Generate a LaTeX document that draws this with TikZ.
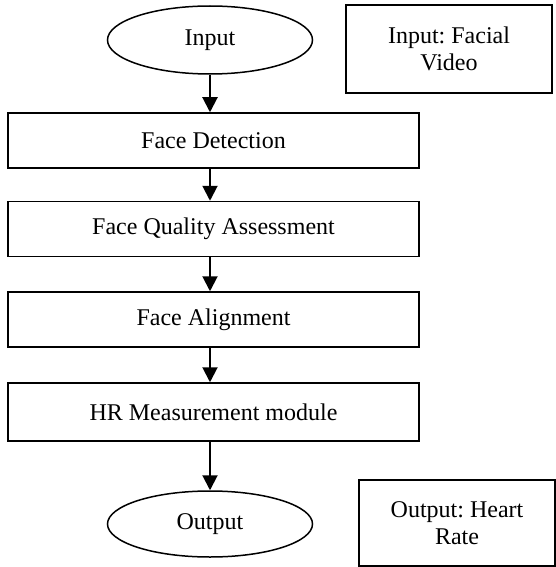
\documentclass[tikz,border=0pt]{standalone}
\usepackage{fontspec}
\setmainfont{Liberation Serif}
\usepackage{tikz}
\usetikzlibrary{shapes}
\usetikzlibrary{positioning, arrows.meta}
\frenchspacing

\tikzset{
  stagebox/.style={draw, black, line width=1.5pt, rectangle, minimum width=411pt, minimum height=55pt, inner sep=0pt},
  termnode/.style={draw, black, line width=1.5pt, ellipse, minimum width=205pt, minimum height=68pt, inner sep=0pt},
  notebox/.style={draw, black, line width=1.5pt, rectangle, align=center, inner sep=0pt},
  flowarrow/.style={black, line width=2pt, -{Triangle[length=15pt, width=15pt]}}
}

\begin{document}
\begin{tikzpicture}[x=1pt, y=-1pt, font=\fontsize{24}{27.5}\selectfont]
          \useasboundingbox (0, 0) rectangle (556, 567);
          \node[termnode] at (210, 40) (input) {Input};
          \node[notebox, minimum width=206pt, minimum height=88pt] at (449, 49) (inputnote) {Input: Facial \\ Video};
          \node[stagebox] at (213.5, 140.5) (detect) {Face Detection};
          \node[stagebox] at (213.5, 229) (quality) {Face Quality Assessment};
          \node[stagebox] at (213.5, 319.5) (align) {Face Alignment};
          \node[stagebox, minimum height=58pt] at (213.5, 412) (hrmod) {HR Measurement module};
          \node[termnode, minimum height=66pt] at (210, 524) (output) {Output};
          \node[notebox, minimum width=196pt, minimum height=86pt] at (457, 523) (outputnote) {Output: Heart \\ Rate};
          \draw[flowarrow] (input.south) -- (input.south |- detect.north);
          \draw[flowarrow] (input.south |- detect.south) -- (input.south |- quality.north);
          \draw[flowarrow] (input.south |- quality.south) -- (input.south |- align.north);
          \draw[flowarrow] (input.south |- align.south) -- (input.south |- hrmod.north);
          \draw[flowarrow] (input.south |- hrmod.south) -- (output.north);
        \end{tikzpicture}
\end{document}
